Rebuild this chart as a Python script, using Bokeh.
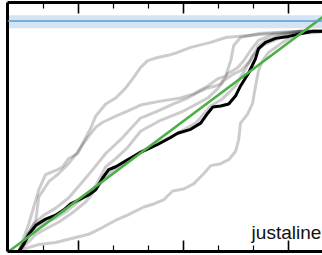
from bokeh.plotting import figure
from bokeh.models import LinearAxis, FixedTicker, Span, BoxAnnotation, Label, Range1d, CustomJSTickFormatter
from bokeh.embed import file_html
from bokeh.resources import INLINE

# ---- data (normalised cumulative curves) ----
black_x = [0.034,0.051,0.068,0.092,0.125,0.159,0.186,0.210,0.237,0.271,0.295,0.319,0.339,0.363,0.403,0.447,0.505,0.549,0.573,0.617,0.651,0.675,0.692,0.719,0.746,0.769,0.786,0.814,0.837,0.847,0.871,0.905,0.949,0.997,1.031,1.07]
black_y = [0,0.032,0.078,0.119,0.147,0.165,0.188,0.216,0.234,0.257,0.280,0.335,0.372,0.385,0.417,0.450,0.486,0.518,0.537,0.555,0.583,0.628,0.656,0.661,0.670,0.706,0.752,0.812,0.876,0.922,0.950,0.968,0.977,0.991,1.0,1.0]

g1_x = [0.034,0.051,0.068,0.085,0.102,0.125,0.166,0.183,0.203,0.234,0.258,0.278,0.295,0.329,0.363,0.397,0.420,0.447,0.471,0.505,0.549,0.573,0.617,0.685,0.736,0.820,0.905,0.990,1.07]
g1_y = [0,0.064,0.124,0.202,0.280,0.349,0.372,0.385,0.422,0.445,0.509,0.560,0.615,0.670,0.697,0.743,0.784,0.835,0.867,0.881,0.894,0.904,0.927,0.950,0.972,0.982,0.991,1.0,1.0]

g2_x = [0.034,0.058,0.092,0.102,0.136,0.169,0.203,0.227,0.251,0.271,0.295,0.319,0.363,0.403,0.447,0.515,0.583,0.627,0.675,0.708,0.736,0.753,0.763,0.786,0.854,0.990,1.07]
g2_y = [0,0.060,0.142,0.248,0.317,0.353,0.399,0.440,0.486,0.523,0.564,0.587,0.615,0.638,0.665,0.683,0.697,0.716,0.752,0.784,0.798,0.867,0.936,0.972,0.991,1.0,1.0]

g3_x = [0.034,0.047,0.064,0.085,0.115,0.159,0.203,0.244,0.285,0.329,0.380,0.447,0.505,0.559,0.607,0.651,0.675,0.702,0.719,0.742,0.776,0.797,0.820,0.847,0.888,0.990,1.07]
g3_y = [0,0.032,0.078,0.124,0.161,0.197,0.243,0.307,0.372,0.445,0.509,0.606,0.638,0.670,0.697,0.729,0.743,0.752,0.761,0.807,0.835,0.867,0.913,0.959,0.982,1.0,1.0]

g4_x = [0.034,0.051,0.068,0.092,0.125,0.159,0.193,0.227,0.261,0.295,0.329,0.363,0.403,0.447,0.515,0.593,0.675,0.708,0.729,0.763,0.786,0.820,0.847,0.871,0.922,0.990,1.07]
g4_y = [0,0.032,0.069,0.106,0.133,0.151,0.179,0.216,0.252,0.298,0.385,0.422,0.472,0.546,0.596,0.638,0.697,0.739,0.775,0.807,0.821,0.867,0.936,0.959,0.982,1.0,1.0]

g5_x = [0.034,0.058,0.102,0.159,0.217,0.271,0.319,0.363,0.403,0.458,0.492,0.525,0.556,0.593,0.627,0.661,0.685,0.719,0.746,0.769,0.780,0.786,0.810,0.827,0.837,0.847,0.861,0.881,0.905,0.929,0.956,0.990,1.041,1.07]
g5_y = [0,0.014,0.032,0.041,0.060,0.078,0.110,0.142,0.165,0.202,0.216,0.234,0.275,0.284,0.307,0.353,0.390,0.399,0.417,0.454,0.509,0.583,0.624,0.674,0.752,0.821,0.867,0.904,0.927,0.950,0.972,0.991,0.995,1.0]

g6_x = [0.034,0.058,0.092,0.136,0.169,0.210,0.261,0.302,0.346,0.403,0.447,0.505,0.566,0.634,0.685,0.725,0.769,0.803,0.827,0.861,0.922,0.990,1.07]
g6_y = [0,0.032,0.078,0.110,0.133,0.170,0.225,0.294,0.362,0.408,0.454,0.491,0.532,0.583,0.661,0.693,0.752,0.830,0.890,0.936,0.972,0.995,1.0]

gray_series = [(g1_x, g1_y), (g2_x, g2_y), (g3_x, g3_y), (g4_x, g4_y), (g5_x, g5_y), (g6_x, g6_y)]

diag_x = [0.0, 1.07]
diag_y = [0.0, 1.07]

ref_level = 1.047
ref_band = [1.014, 1.073]

x_major = [0.237, 0.593, 0.949]
x_minor = [0.119, 0.356, 0.475, 0.712, 0.831]

label_text = "justaline"

# ---- figure ----
p = figure(width=322, height=255, output_backend="svg", toolbar_location=None,
           x_axis_location=None, y_axis_location=None,
           x_range=Range1d(-0.004, 1.064), y_range=Range1d(0, 1.131),
           min_border_left=7, min_border_right=0, min_border_top=2, min_border_bottom=4)
p.outline_line_color = None
p.grid.visible = False
p.background_fill_color = "white"
p.border_fill_color = "white"

blank = CustomJSTickFormatter(code="return ''")
ticker = FixedTicker(ticks=x_major, minor_ticks=x_minor)
for loc in ("above", "below"):
    ax = LinearAxis(ticker=ticker, formatter=blank, axis_line_width=3, axis_line_color="black",
                    major_tick_in=11, major_tick_out=0, minor_tick_in=6, minor_tick_out=0,
                    major_tick_line_width=1.6, minor_tick_line_width=1.2,
                    major_label_standoff=0)
    p.add_layout(ax, loc)
lax = LinearAxis(ticker=FixedTicker(ticks=[]), formatter=blank, axis_line_width=3, axis_line_color="black",
                 major_tick_in=0, major_tick_out=0, minor_tick_in=0, minor_tick_out=0,
                 major_label_standoff=0)
p.add_layout(lax, "left")

p.add_layout(BoxAnnotation(bottom=ref_band[0], top=ref_band[1], fill_color="#d4e4f2",
                           fill_alpha=1.0, line_color=None, level="underlay"))
p.add_layout(Span(location=ref_level, dimension="width", line_color="#5a9bd4", line_width=1.6))

for gx, gy in gray_series:
    p.line(gx, gy, line_color="black", line_alpha=0.2, line_width=3, line_join="round")

p.line(black_x, black_y, line_color="black", line_width=3, line_join="round")
p.line(diag_x, diag_y, line_color="#4daf4a", line_width=2.6)

p.add_layout(Label(x=1.06, y=0.087, text=label_text, text_align="right",
                   text_baseline="alphabetic", text_font="Liberation Sans",
                   text_font_size="19px", text_color="#111111"))

open("out.html", "w").write(file_html(p, INLINE))
